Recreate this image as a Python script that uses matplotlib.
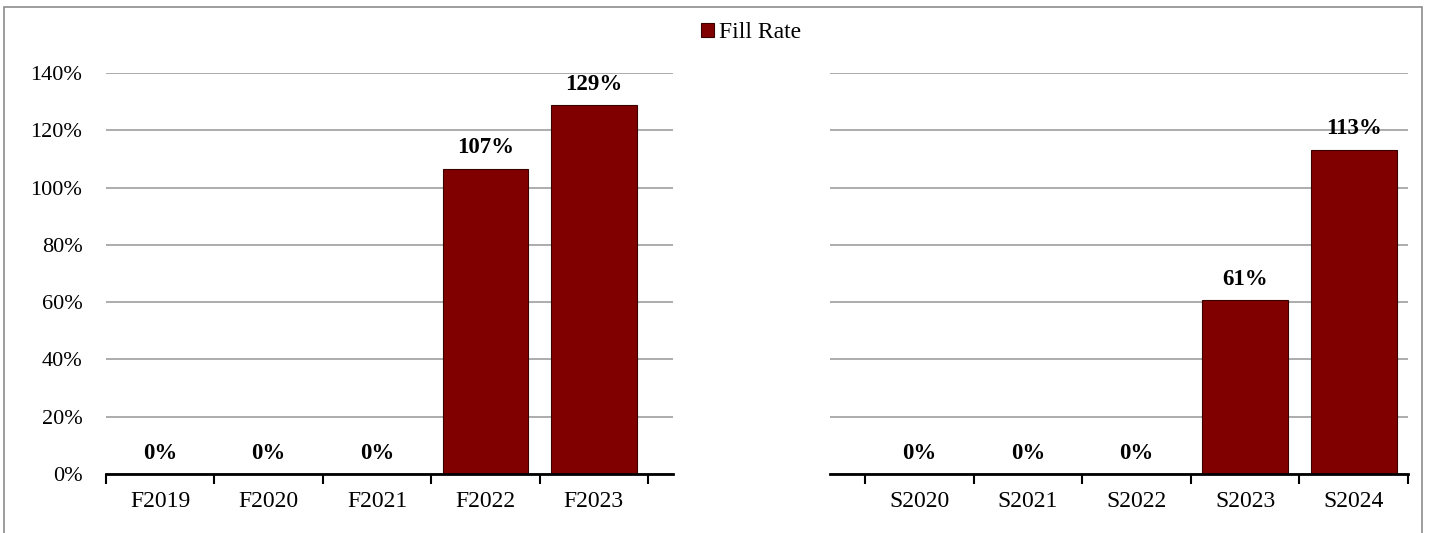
import matplotlib.pyplot as plt
from matplotlib.patches import Rectangle, Patch
from matplotlib.ticker import PercentFormatter, FixedLocator

plt.rcParams['font.family'] = ['Liberation Serif', 'DejaVu Serif']

fall_terms = ['F2019', 'F2020', 'F2021', 'F2022', 'F2023']
fall_rate = [0.0, 0.0, 0.0, 1.066, 1.288]
spring_terms = ['S2020', 'S2021', 'S2022', 'S2023', 'S2024']
spring_rate = [0.0, 0.0, 0.0, 0.607, 1.132]

bar_color = '#800000'
W, H = 1431, 533

fig = plt.figure(figsize=(W / 100, H / 100), dpi=100)

# grey frame round the chart (bottom edge is cut off in the original)
fig.patches.append(Rectangle((4 / W, -0.1), (1422 - 4) / W, 1 - 7 / H + 0.1,
                             transform=fig.transFigure, fill=False,
                             edgecolor='#8c8c8c', lw=1.2))

ax1 = fig.add_axes([106 / W, 1 - 474 / H, 567 / W, 401 / H])
ax2 = fig.add_axes([830 / W, 1 - 474 / H, 578 / W, 401 / H])


def draw(ax, terms, rate, xlim, show_y):
    x = list(range(len(terms)))
    ax.bar(x, rate, width=0.79, color=bar_color, edgecolor='#3a0000',
           linewidth=0.8, zorder=3)
    for xi, v in zip(x, rate):
        ax.annotate(f'{v * 100:.0f}%', (xi, v), xytext=(0, 11),
                    textcoords='offset points', ha='center', va='baseline',
                    fontsize=16.5, fontweight='bold')
    ax.set_ylim(0, 1.4)
    ax.set_xlim(*xlim)
    ax.set_yticks([i * 0.2 for i in range(8)])
    ax.yaxis.set_major_formatter(PercentFormatter(1.0, decimals=0))
    ax.grid(axis='y', color='#a6a6a6', lw=1.3, zorder=0)
    ax.set_axisbelow(True)
    ax.set_xticks(x)
    ax.set_xticklabels(terms, fontsize=17)
    ax.tick_params(axis='x', which='major', length=0, pad=12)
    ax.xaxis.set_minor_locator(FixedLocator([i - 0.5 for i in range(len(terms) + 1)]))
    ax.tick_params(axis='x', which='minor', length=7, width=1.5, direction='out',
                   color='black')
    ax.tick_params(axis='y', length=0, pad=17, labelsize=16,
                   labelleft=show_y)
    for s in ['top', 'right', 'left']:
        ax.spines[s].set_visible(False)
    ax.spines['bottom'].set_linewidth(2)
    ax.spines['bottom'].set_zorder(4)


draw(ax1, fall_terms, fall_rate, (-0.5, 4.73), True)
draw(ax2, spring_terms, spring_rate, (-0.822, 4.5), False)

fig.legend(handles=[Patch(facecolor=bar_color, edgecolor='#3a0000', lw=0.8)],
           labels=['Fill Rate'], loc='center', bbox_to_anchor=(751 / W, 1 - 33 / H),
           frameon=False, fontsize=17, handlelength=0.55, handleheight=0.55,
           handletextpad=0.2, borderaxespad=0)

fig.savefig('out.png', dpi=100)
